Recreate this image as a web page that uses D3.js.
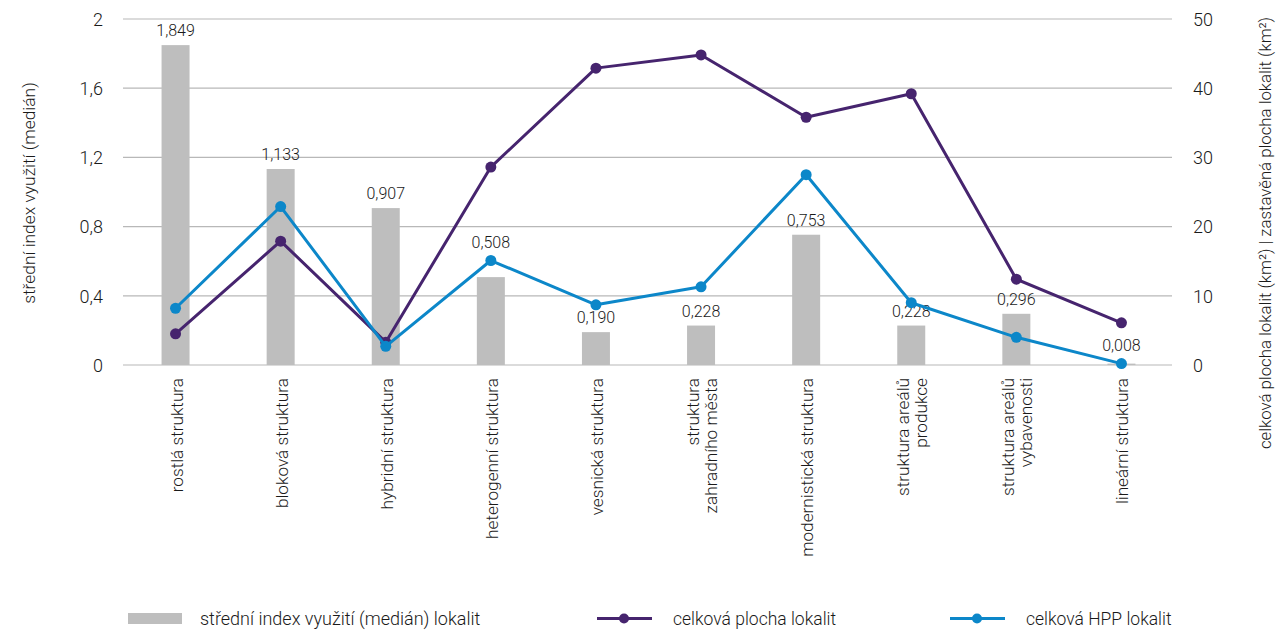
<!DOCTYPE html>
<html><head><meta charset="utf-8">
<script src="https://cdn.jsdelivr.net/npm/d3@7"></script>
<style>
body{margin:0;background:#fff;}
text{font-family:Roboto,"Open Sans",sans-serif;font-weight:300;fill:#1a1a1a;}
</style></head>
<body>
<svg id="chart" width="1277" height="630"></svg>
<script>
const categories = [
  ["rostlá struktura"],
  ["bloková struktura"],
  ["hybridní struktura"],
  ["heterogenní struktura"],
  ["vesnická struktura"],
  ["struktura","zahradního města"],
  ["modernistická struktura"],
  ["struktura areálů","produkce"],
  ["struktura areálů","vybavenosti"],
  ["lineární struktura"]
];
const indexValues = [1.849, 1.133, 0.907, 0.508, 0.190, 0.228, 0.753, 0.228, 0.296, 0.008];
const plochaValues = [4.5, 17.9, 3.3, 28.6, 42.9, 44.8, 35.8, 39.2, 12.4, 6.1];
const hppValues = [8.2, 22.9, 2.7, 15.1, 8.7, 11.3, 27.5, 9.0, 4.0, 0.2];
const leftTicks = [0, 0.4, 0.8, 1.2, 1.6, 2];
const rightTicks = [0, 10, 20, 30, 40, 50];
const legendLabels = ["střední index využití (medián) lokalit", "celková plocha lokalit", "celková HPP lokalit"];
const leftTitle = "střední index využití (medián)";
const rightTitle = "celková plocha lokalit (km²) | zastavěná plocha lokalit (km²)";

const colors = {bar:"#bebebe", plocha:"#46246e", hpp:"#0c87c9", grid:"#b8b8b8"};
const svg = d3.select("#chart");
const m = {left:123, right:1174, top:19, bottom:365};

const x = d3.scaleBand().domain(d3.range(categories.length)).range([m.left, m.right]).paddingInner(0).paddingOuter(0);
const yL = d3.scaleLinear().domain([0,2]).range([m.bottom, m.top]);
const yR = d3.scaleLinear().domain([0,50]).range([m.bottom, m.top]);
const fmt = d => String(d).replace(".", ",");
const fmt3 = d => d3.format(".3f")(d).replace(".", ",");
const cx = i => x(i) + x.bandwidth()/2;

// gridlines
svg.append("g").selectAll("line").data(leftTicks).join("line")
  .attr("x1", m.left).attr("x2", m.right - 2)
  .attr("y1", d => yL(d)).attr("y2", d => yL(d))
  .attr("stroke", colors.grid).attr("stroke-width", 1.2);

function styleAxis(g){
  g.select(".domain").remove();
  g.selectAll("text").attr("font-size", 18).attr("dy", "0.35em")
    .style("font-family", "Roboto,'Open Sans',sans-serif").style("font-weight", 300).attr("fill", "#1a1a1a");
}
const gl = svg.append("g").attr("transform", `translate(${m.left - 17},0)`)
  .call(d3.axisLeft(yL).tickValues(leftTicks).tickSize(0).tickFormat(fmt));
styleAxis(gl);
const gr = svg.append("g").attr("transform", `translate(${m.right + 16},0)`)
  .call(d3.axisRight(yR).tickValues(rightTicks).tickSize(0).tickFormat(d3.format("d")));
styleAxis(gr);

// axis titles
svg.append("text").attr("transform", `translate(35,193) rotate(-90)`)
  .attr("text-anchor", "middle").attr("font-size", 17.4).text(leftTitle);
svg.append("text").attr("transform", `translate(1271,233) rotate(-90)`)
  .attr("text-anchor", "middle").attr("font-size", 16.8).text(rightTitle);

// bars
const barW = 28;
svg.append("g").selectAll("rect").data(indexValues).join("rect")
  .attr("x", (d,i) => cx(i) - barW/2)
  .attr("width", barW)
  .attr("y", d => yL(d)).attr("height", d => m.bottom - yL(d))
  .attr("fill", colors.bar);

// bar value labels (moved above a line marker when they would collide)
function labelY(d, i){
  let base = yL(d) - 9;
  [plochaValues[i], hppValues[i]].forEach(v => {
    const dy = yR(v);
    if (dy > base - 11 && dy < base + 16) base = Math.min(base, dy - 13);
  });
  return base;
}
svg.append("g").selectAll("text").data(indexValues).join("text")
  .attr("x", (d,i) => cx(i))
  .attr("y", (d,i) => labelY(d,i))
  .attr("text-anchor", "middle").attr("font-size", 16)
  .text(d => fmt3(d));

// lines
function drawLine(vals, color){
  const line = d3.line().x((d,i) => cx(i)).y(d => yR(d));
  svg.append("path").datum(vals).attr("d", line)
    .attr("fill", "none").attr("stroke", color).attr("stroke-width", 3).attr("stroke-linejoin", "round");
  svg.append("g").selectAll("circle").data(vals).join("circle")
    .attr("cx", (d,i) => cx(i)).attr("cy", d => yR(d)).attr("r", 5.5).attr("fill", color);
}
drawLine(plochaValues, colors.plocha);
drawLine(hppValues, colors.hpp);

// x labels
const xl = svg.append("g");
categories.forEach((lines, i) => {
  const n = lines.length;
  lines.forEach((t, j) => {
    const off = 7 + (j - (n-1)/2) * 18;
    xl.append("text")
      .attr("transform", `translate(${cx(i) + off},378) rotate(-90)`)
      .attr("text-anchor", "end").attr("font-size", 17.2)
      .text(t);
  });
});

// legend
const lg = svg.append("g");
lg.append("rect").attr("x", 128).attr("y", 613).attr("width", 54).attr("height", 11).attr("fill", colors.bar);
lg.append("text").attr("x", 200).attr("y", 625).attr("font-size", 18).text(legendLabels[0]);
[[597, colors.plocha, legendLabels[1], 673],[950, colors.hpp, legendLabels[2], 1026]].forEach(([lx, c, t, tx]) => {
  lg.append("line").attr("x1", lx).attr("x2", lx + 55).attr("y1", 618.5).attr("y2", 618.5).attr("stroke", c).attr("stroke-width", 3);
  lg.append("circle").attr("cx", lx + 27).attr("cy", 618.5).attr("r", 5).attr("fill", c);
  lg.append("text").attr("x", tx).attr("y", 625).attr("font-size", 17.5).text(t);
});
</script>
</body></html>
